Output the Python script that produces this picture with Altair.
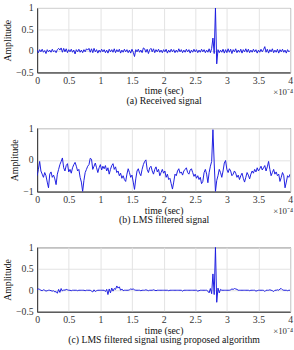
import altair as alt
import pandas as pd

# Sample spacing along the time axis, in units of 1e-4 s (0 .. 4)
STEP = 0.02

# (a) received signal
received = [
    0.02, -0.04, 0.03, -0.02, 0.04, -0.03, 0.01, -0.06, 0.03, -0.02,
    0.02, -0.03, 0.04, -0.02, 0.01, -0.04, 0.03, 0.06, 0.02, 0.07,
    -0.03, 0.06, -0.02, 0.05, -0.04, 0.03, -0.02, 0.04, -0.03, 0.02,
    -0.07, 0.03, -0.02, 0.04, -0.03, 0.02, -0.04, 0.03, -0.02, 0.05,
    0.02, 0.06, -0.03, 0.05, -0.04, 0.06, -0.02, 0.03, -0.05, 0.02,
    -0.03, 0.04, -0.02, 0.03, -0.04, 0.02, -0.05, 0.04, -0.02, 0.03,
    -0.03, 0.05, -0.04, 0.03, -0.02, 0.04, -0.05, 0.02, -0.03, 0.04,
    -0.02, 0.03, -0.04, 0.02, -0.05, 0.04, -0.03, -0.13, 0.03, -0.02,
    0.04, -0.03, 0.02, -0.04, 0.07, 0.05, -0.03, 0.04, -0.06, 0.03,
    0.06, -0.02, 0.05, -0.04, 0.03, -0.02, 0.04, -0.03, 0.02, -0.04,
    0.03, -0.02, 0.04, -0.05, 0.02, -0.03, 0.04, -0.02, 0.03, -0.04,
    0.02, -0.03, 0.05, -0.02, 0.03, -0.04, 0.02, -0.03, 0.04, -0.02,
    0.03, -0.05, 0.02, -0.03, 0.04, -0.02, 0.03, -0.04, 0.02, -0.03,
    0.04, -0.02, 0.03, -0.04, 0.02, -0.03, 0.05, -0.04, 0.06, 0.30,
    -0.06, 1.00, -0.30, 0.03, -0.04, 0.02, -0.03, 0.04, -0.05, 0.03,
    -0.04, 0.05, -0.03, 0.04, -0.06, 0.03, -0.02, 0.05, -0.04, 0.02,
    -0.03, 0.04, -0.05, 0.03, -0.02, 0.05, -0.03, 0.04, -0.04, 0.02,
    -0.03, 0.04, -0.02, 0.03, -0.05, 0.02, -0.03, 0.04, -0.02, 0.03,
    0.10, -0.03, 0.04, -0.05, 0.03, -0.02, 0.05, -0.04, 0.02, -0.03,
    0.04, -0.05, 0.03, -0.02, 0.04, -0.03, 0.02, -0.05, 0.03, -0.02,
    0.01,
]

# (b) LMS filtered signal
lms_filtered = [
    -0.50, -0.30, -0.05, -0.35, -0.45, -0.55, -0.40, -0.50, -0.70, -0.88,
    -0.45, -0.38, -0.55, -0.48, -0.60, -0.78, -0.45, -0.30, -0.15, -0.05,
    0.06, -0.25, -0.35, -0.18, -0.12, -0.38, -0.30, -0.42, -0.25, -0.15,
    -0.08, -0.20, -0.35, -0.30, -0.55, -0.70, -1.00, -0.65, -0.40, -0.30,
    -0.20, -0.15, 0.05, 0.02, -0.30, -0.20, -0.10, -0.25, -0.40, -0.25,
    -0.15, -0.32, -0.20, -0.28, -0.18, -0.35, -0.25, -0.45, -0.30, -0.18,
    -0.12, -0.30, -0.22, -0.40, -0.35, -0.50, -0.42, -0.58, -0.50, -0.62,
    -0.68, -0.45, -0.28, -0.40, -0.55, -0.48, -0.70, -0.93, -0.60, -0.35,
    -0.28, -0.42, -0.50, -0.30, -0.15, -0.05, 0.00, -0.30, -0.40, -0.25,
    -0.20, -0.35, -0.45, -0.30, -0.22, -0.38, -0.30, -0.50, -0.40, -0.30,
    -0.42, -0.35, -0.55, -0.45, -0.62, -0.58, -0.75, -0.92, -0.70, -0.45,
    -0.50, -0.35, -0.28, -0.42, -0.38, -0.48, -0.35, -0.30, -0.25, -0.40,
    -0.45, -0.32, -0.28, -0.40, -0.52, -0.45, -0.58, -0.50, -0.62, -0.55,
    -0.75, -0.68, -0.40, -0.30, -0.45, -0.72, -0.40, -0.20, -0.05, 0.95,
    -0.10, -1.00, -0.65, -0.50, -0.30, -0.40, -0.55, -0.35, -0.10, -0.02,
    -0.30, -0.40, -0.28, -0.35, -0.50, -0.45, -0.35, -0.42, -0.55, -0.48,
    -0.62, -0.50, -0.42, -0.58, -0.70, -0.55, -0.40, -0.48, -0.60, -0.45,
    -0.35, -0.42, -0.30, -0.38, -0.25, -0.35, -0.28, -0.20, -0.32, -0.25,
    -0.18, -0.35, -0.22, -0.05, -0.30, -0.50, -0.40, -0.30, -0.45, -0.38,
    -0.50, -0.45, -0.68, -0.55, -0.40, -0.50, -0.88, -0.70, -0.50, -0.55,
    -0.45,
]

# (c) LMS filtered signal using the proposed algorithm
proposed = [
    0.01, 0.03, 0.02, 0.00, -0.01, 0.01, 0.00, -0.02, -0.01, 0.00,
    0.00, -0.01, -0.02, -0.01, -0.04, -0.03, -0.07, 0.02, -0.05, 0.04,
    -0.02, 0.01, 0.00, 0.02, 0.01, 0.00, 0.00, -0.01, 0.00, 0.00,
    0.00, 0.00, -0.01, 0.00, 0.00, 0.00, 0.00, 0.00, -0.01, 0.00,
    0.00, 0.00, 0.00, -0.02, -0.04, 0.01, -0.03, -0.01, 0.00, 0.00,
    0.00, 0.00, 0.00, 0.00, -0.03, 0.02, -0.10, 0.03, -0.06, 0.05,
    -0.02, 0.04, 0.02, 0.10, 0.05, 0.08, 0.00, 0.03, -0.01, 0.00,
    0.00, 0.00, 0.00, 0.01, 0.03, 0.02, 0.03, 0.01, 0.00, 0.00,
    0.00, 0.00, -0.01, 0.00, 0.00, 0.00, 0.01, 0.00, -0.01, 0.00,
    0.00, 0.00, 0.01, 0.00, -0.01, 0.00, 0.00, 0.00, 0.00, 0.00,
    0.00, 0.00, 0.00, 0.00, -0.01, 0.00, 0.00, 0.00, 0.00, 0.00,
    0.00, 0.00, 0.00, 0.00, 0.00, -0.02, 0.00, 0.00, 0.00, 0.00,
    0.00, 0.00, 0.00, 0.00, 0.00, 0.00, 0.00, -0.02, -0.01, 0.00,
    0.00, 0.00, 0.00, 0.00, 0.00, -0.02, -0.06, 0.04, -0.08, 0.38,
    -0.10, 1.00, -0.28, 0.05, -0.06, 0.02, 0.00, 0.00, 0.00, 0.00,
    0.00, 0.00, 0.00, 0.01, 0.03, 0.02, 0.04, 0.03, 0.02, 0.00,
    0.00, 0.00, 0.00, 0.00, 0.00, 0.00, 0.00, 0.00, -0.01, 0.00,
    0.00, 0.00, 0.00, -0.02, -0.01, 0.00, 0.00, 0.00, 0.00, 0.00,
    -0.03, 0.00, 0.00, 0.00, 0.01, 0.00, -0.01, -0.03, 0.00, 0.00,
    0.01, 0.00, 0.03, 0.04, 0.01, 0.00, 0.00, 0.00, -0.01, 0.00,
    0.00,
]

x_ticks = [0, 0.5, 1, 1.5, 2, 2.5, 3, 3.5, 4]
captions = [
    "(a) Received signal",
    "(b) LMS filtered signal",
    "(c) LMS filtered signal using proposed algorithm",
]

SERIF = "Liberation Serif"
BLUE = "#1c1ce0"
PLOT_W = 259


def panel(values, ymin, ymax, yticks, caption, height):
    df = pd.DataFrame({"t": [i * STEP for i in range(len(values))], "amp": values})
    x_enc = alt.X(
        "t:Q",
        scale=alt.Scale(domain=[0, 4], nice=False, zero=False),
        axis=alt.Axis(values=x_ticks, format="~g", title=["time (sec)", caption]),
    )
    y_enc = alt.Y(
        "amp:Q",
        scale=alt.Scale(domain=[ymin, ymax], nice=False, zero=False),
        axis=alt.Axis(values=yticks, format="~g", title="Amplitude"),
    )
    line = alt.Chart(df).mark_line(color=BLUE, strokeWidth=1, clip=True).encode(
        x=x_enc, y=y_enc
    )
    # exponent note for the time axis
    exponent = alt.Chart(pd.DataFrame({"t": [4], "amp": [ymin]})).mark_text(
        text="×10⁻⁴", align="right", baseline="middle", dx=3, dy=20,
        font=SERIF, fontSize=9, color="#333333",
    ).encode(x=x_enc, y=y_enc)
    return alt.layer(line, exponent).properties(width=PLOT_W, height=height)


chart = alt.vconcat(
    panel(received, -0.5, 1, [-0.5, 0, 0.5, 1], captions[0], 66),
    panel(lms_filtered, -1, 1, [-1, 0, 1], captions[1], 65),
    panel(proposed, -0.5, 1, [-0.5, 0, 0.5, 1], captions[2], 66),
    spacing=57,
    bounds="flush",
).configure(
    padding={"left": 2, "top": -2, "right": 0, "bottom": 0},
    background="white",
).configure_view(
    stroke="#333333", strokeWidth=1,
).configure_axis(
    labelFont=SERIF, labelFontSize=10, labelColor="#333333",
    labelOverlap=False, labelFlush=False,
    titleFont=SERIF, titleFontSize=10, titleFontWeight="normal", titleColor="#111111",
    titleLineHeight=10,
    gridColor="#e2e2e2", domainColor="#333333", ticks=False,
).configure_axisX(
    labelPadding=3, titlePadding=1,
).configure_axisY(
    labelPadding=4, titlePadding=3,
)

chart.save("out.html", embed_options={"renderer": "svg", "actions": False})
